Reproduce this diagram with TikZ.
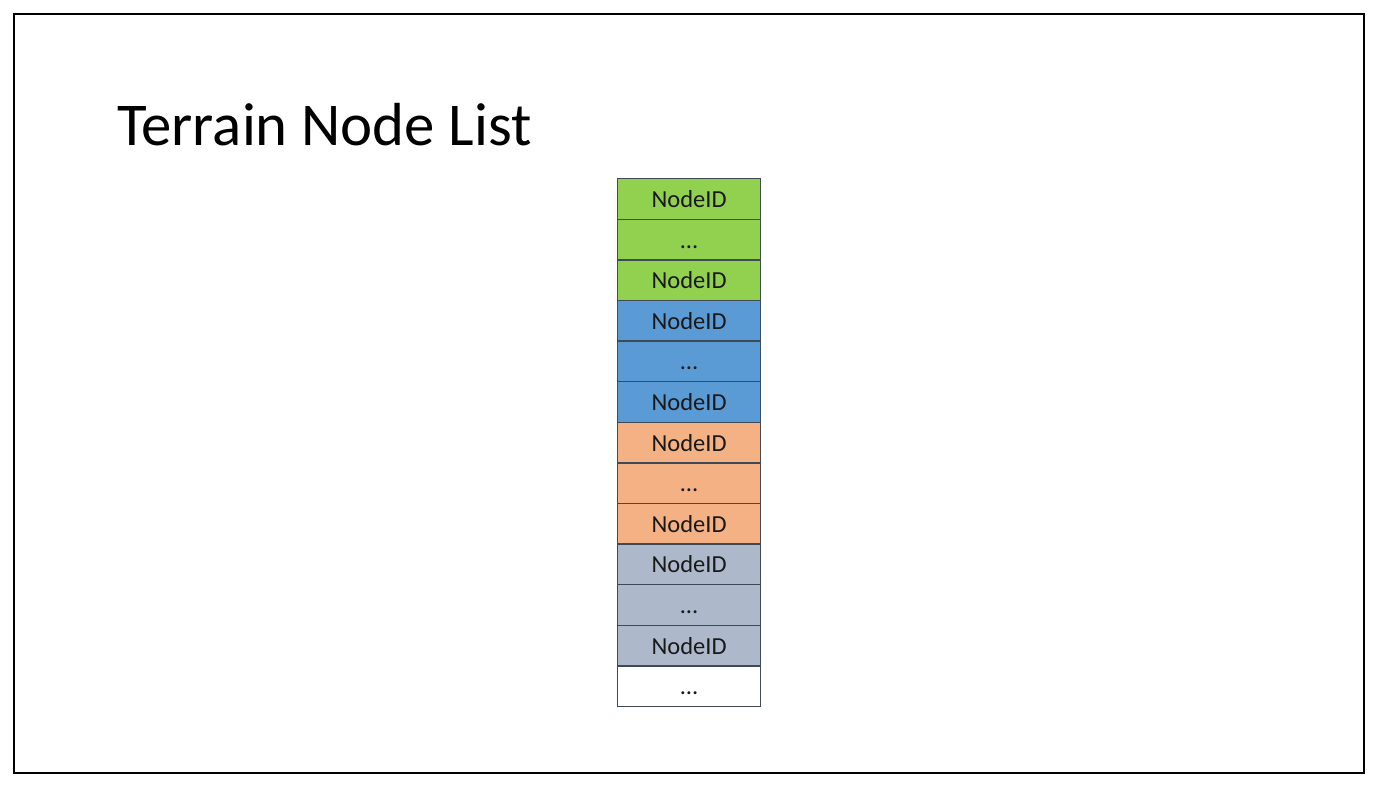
\documentclass[tikz,border=0pt]{standalone}
\usepackage{fontspec}
\setmainfont{Carlito}
\definecolor{cgreen}{HTML}{92D050}
\definecolor{cblue}{HTML}{5B9BD5}
\definecolor{corange}{HTML}{F4B183}
\definecolor{cslate}{HTML}{ADB9CA}
\definecolor{cedge}{HTML}{3E4A56}
\newcommand{\rowdots}{\symbol{"2026}}
\begin{document}
\begin{tikzpicture}[x=1pt,y=-1pt,
  cell/.style={draw=cedge, line width=1.3pt, minimum width=143pt, minimum height=40.6pt,
    inner sep=0pt, text height=20pt, text depth=3pt, anchor=north west,
    font=\fontsize{24.5}{28}\selectfont, text=black!90},
  frame/.style={draw=black, line width=2.6pt}]
  \useasboundingbox (0,0) rectangle (1380,787);
  \fill[white] (0,0) rectangle (1380,787);
  \draw[frame] (14,14) rectangle (1364,773);
  \node[anchor=base west, inner sep=0pt, font=\fontsize{60.8}{68}\selectfont] (title) at (117,145) {Terrain Node List};
  % list of cells, top to bottom
  \foreach \i/\c/\t in {0/cgreen/NodeID, 1/cgreen/\rowdots, 2/cgreen/NodeID,
                        3/cblue/NodeID, 4/cblue/\rowdots, 5/cblue/NodeID,
                        6/corange/NodeID, 7/corange/\rowdots, 8/corange/NodeID,
                        9/cslate/NodeID, 10/cslate/\rowdots, 11/cslate/NodeID,
                        12/white/\rowdots}{
    \node[cell, fill=\c] (cell\i) at (617,178+\i*40.6) {\t};
  }
\end{tikzpicture}
\end{document}
